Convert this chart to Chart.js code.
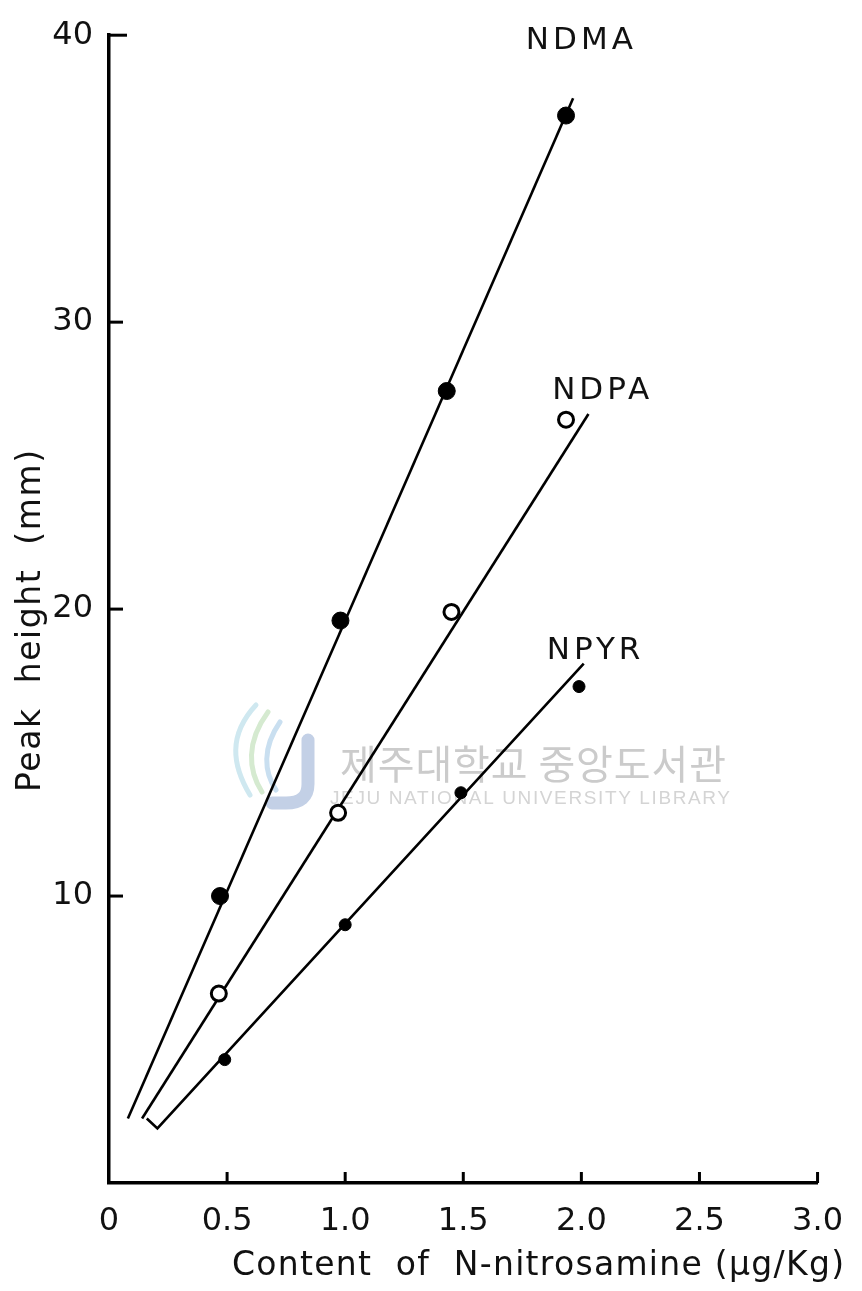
<!DOCTYPE html>
<html>
<head>
<meta charset="utf-8">
<script src="https://cdn.jsdelivr.net/npm/chart.js@4.4.1/dist/chart.umd.min.js"></script>
<style>
  html, body { margin: 0; padding: 0; background: #fff; }
  canvas { display: block; }
</style>
</head>
<body>
<canvas id="grafico" width="862" height="1291"></canvas>
<script>
// measured points (content ug/Kg, peak height mm)
const ndmaX = [0.47, 0.98, 1.43, 1.935];
const ndmaY = [10.0, 19.6, 27.6, 37.2];
const ndpaX = [0.465, 0.97, 1.45, 1.935];
const ndpaY = [6.6, 12.9, 19.9, 26.6];
const npyrX = [0.49, 1.0, 1.49, 1.99];
const npyrY = [4.3, 9.0, 13.6, 17.3];

// hand-drawn calibration lines, end points
const ndmaLineX = [0.08, 1.965];
const ndmaLineY = [2.25, 37.8];
const ndpaLineX = [0.14, 2.03];
const ndpaLineY = [2.25, 26.8];
const npyrLineX = [0.16, 0.205, 2.01];
const npyrLineY = [2.25, 1.9, 18.1];

const xTicks = [0, 0.5, 1.0, 1.5, 2.0, 2.5, 3.0];
const yTicks = [10, 20, 30, 40];

const seriesNames = ['NDMA', 'NDPA', 'NPYR'];
const nameX = [2.0, 2.09, 2.06];
const nameY = [39.8, 27.6, 18.55];

const TXT = '#111';
const FONTE = '"DejaVu Sans", sans-serif';

const pts = (xs, ys) => xs.map((x, i) => ({ x: x, y: ys[i] }));

// draws a text so that it spans a given width (the lettering is spaced out)
function textoLargo(ctx, texto, x, y, largura) {
    ctx.letterSpacing = '0px';
    const w = ctx.measureText(texto).width;
    const ls = Math.max(0, (largura - w) / (texto.length - 1));
    ctx.letterSpacing = ls + 'px';
    ctx.fillText(texto, x, y);
    ctx.letterSpacing = '0px';
}

// faint library stamp behind the plot
const marcaAgua = {
    id: 'marcaAgua',
    beforeDatasetsDraw(chart) {
        const ctx = chart.ctx;
        ctx.save();
        ctx.lineCap = 'round';

        ctx.strokeStyle = '#c3d0e6';
        ctx.lineWidth = 13;
        ctx.beginPath();
        ctx.moveTo(308, 740);
        ctx.lineTo(308, 784);
        ctx.quadraticCurveTo(308, 803, 286, 803);
        ctx.lineTo(272, 803);
        ctx.stroke();

        ctx.lineWidth = 5;
        ctx.strokeStyle = '#cfe8f0';
        ctx.beginPath();
        ctx.moveTo(256, 705);
        ctx.bezierCurveTo(228, 735, 232, 765, 250, 795);
        ctx.stroke();
        ctx.strokeStyle = '#d5ead0';
        ctx.beginPath();
        ctx.moveTo(268, 712);
        ctx.bezierCurveTo(246, 742, 248, 770, 262, 792);
        ctx.stroke();
        ctx.strokeStyle = '#c9dff0';
        ctx.beginPath();
        ctx.moveTo(280, 722);
        ctx.bezierCurveTo(262, 748, 264, 772, 276, 790);
        ctx.stroke();

        ctx.textBaseline = 'middle';
        ctx.textAlign = 'left';
        ctx.fillStyle = '#cbcbcb';
        ctx.font = '40px "Noto Sans CJK KR"';
        textoLargo(ctx, '제주대학교 중앙도서관', 340, 764, 386);
        ctx.fillStyle = '#d4d4d4';
        ctx.font = '19px "Liberation Sans"';
        textoLargo(ctx, 'JEJU NATIONAL UNIVERSITY LIBRARY', 330, 799, 400);
        ctx.restore();
    }
};

const tracosInternos = {
    id: 'tracosInternos',
    afterDraw(chart) {
        const { ctx, chartArea, scales: { x, y } } = chart;
        ctx.save();
        ctx.strokeStyle = '#000';
        ctx.lineWidth = 3;
        xTicks.filter(v => v > 0).forEach(v => {
            const px = x.getPixelForValue(v);
            ctx.beginPath();
            ctx.moveTo(px, chartArea.bottom);
            ctx.lineTo(px, chartArea.bottom - 11);
            ctx.stroke();
        });
        yTicks.forEach(v => {
            const py = y.getPixelForValue(v);
            ctx.beginPath();
            ctx.moveTo(chartArea.left, py);
            ctx.lineTo(chartArea.left + (v === 40 ? 18 : 14), py);
            ctx.stroke();
        });

        // series names
        ctx.fillStyle = TXT;
        ctx.textBaseline = 'middle';
        ctx.textAlign = 'left';
        ctx.font = '31px ' + FONTE;
        seriesNames.forEach((nome, i) => {
            ctx.letterSpacing = '4px';
            const w = ctx.measureText(nome).width;
            ctx.fillText(nome, x.getPixelForValue(nameX[i]) - w / 2, y.getPixelForValue(nameY[i]));
        });
        ctx.letterSpacing = '0px';

        // axis titles
        ctx.font = '33px ' + FONTE;
        textoLargo(ctx, 'Content  of  N-nitrosamine (\u03BCg/Kg)', 232, 1266, 612);

        ctx.translate(31, 792);
        ctx.rotate(-Math.PI / 2);
        ctx.font = '33px ' + FONTE;
        textoLargo(ctx, 'Peak  height  (mm)', 0, 0, 342);
        ctx.restore();
    }
};

function renderGrafico() {
    const ctx = document.getElementById('grafico');

    new Chart(ctx, {
        type: 'scatter',
        data: {
            datasets: [
                { data: pts(ndmaX, ndmaY), pointRadius: 8.5, pointBackgroundColor: '#000', pointBorderColor: '#000', order: 1 },
                { data: pts(ndpaX, ndpaY), pointRadius: 7.5, pointBackgroundColor: '#fff', pointBorderColor: '#000', pointBorderWidth: 3, order: 1 },
                { data: pts(npyrX, npyrY), pointRadius: 6, pointBackgroundColor: '#000', pointBorderColor: '#000', order: 1 },
                { data: pts(ndmaLineX, ndmaLineY), showLine: true, pointRadius: 0, borderColor: '#000', borderWidth: 2.6, order: 2 },
                { data: pts(ndpaLineX, ndpaLineY), showLine: true, pointRadius: 0, borderColor: '#000', borderWidth: 2.6, order: 2 },
                { data: pts(npyrLineX, npyrLineY), showLine: true, pointRadius: 0, borderColor: '#000', borderWidth: 2.6, order: 2 }
            ]
        },
        options: {
            responsive: false,
            animation: false,
            clip: false,
            layout: { padding: { top: 27, right: 38, left: 0, bottom: 0 } },
            plugins: {
                legend: { display: false },
                tooltip: { enabled: false }
            },
            scales: {
                x: {
                    type: 'linear',
                    min: 0,
                    max: 3,
                    afterFit: s => { s.height = 108; },
                    afterBuildTicks: s => { s.ticks = xTicks.map(v => ({ value: v })); },
                    grid: { display: false, drawTicks: false },
                    border: { display: true, color: '#000', width: 3.5 },
                    ticks: {
                        autoSkip: false,
                        maxRotation: 0,
                        padding: 19,
                        color: TXT,
                        font: { family: FONTE, size: 32 },
                        callback: v => v === 0 ? '0' : v.toFixed(1)
                    }
                },
                y: {
                    type: 'linear',
                    min: 0,
                    max: 40,
                    afterFit: s => { s.width = 109; },
                    afterBuildTicks: s => { s.ticks = yTicks.map(v => ({ value: v })); },
                    grid: { display: false, drawTicks: false },
                    border: { display: true, color: '#000', width: 3.5 },
                    ticks: {
                        padding: 16,
                        color: TXT,
                        font: { family: FONTE, size: 32 }
                    }
                }
            }
        },
        plugins: [marcaAgua, tracosInternos]
    });
}

renderGrafico();
</script>
</body>
</html>
